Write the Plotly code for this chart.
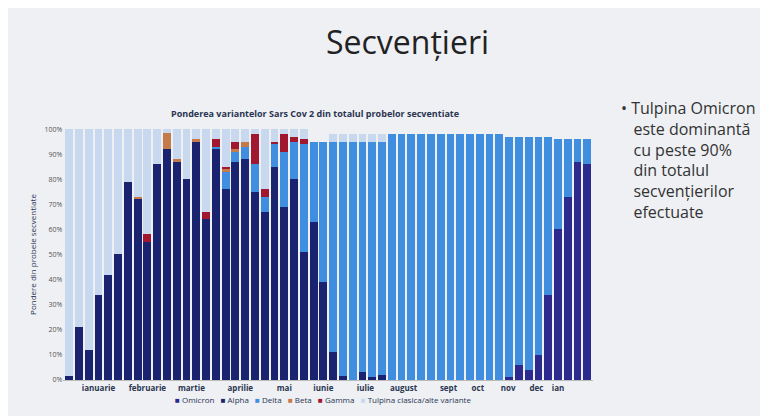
import plotly.graph_objects as go

# 54 sampled weeks, shares in %
alpha = [1.5, 21, 12, 34, 42, 50, 79, 72, 55, 86, 92, 87, 80, 95, 64, 92, 76, 87, 88, 75,
         67, 85, 69, 80, 51, 63, 39, 11, 1.5, 0, 3, 1, 2] + [0] * 21
omicron = [0] * 45 + [1, 6, 4, 10, 34, 60, 73, 87, 86]
beta = [0, 0, 0, 0, 0, 0, 0, 1, 0, 0, 6.5, 1, 0, 1, 0, 0, 1, 1, 2, 0,
        0, 0, 0, 0, 0] + [0] * 29
gamma = [0, 0, 0, 0, 0, 0, 0, 0, 3, 0, 0, 0, 0, 0, 3, 3, 1, 3, 0, 12,
         3, 1, 7, 2, 2] + [0] * 29
delta_early = [0] * 15 + [1, 7, 4, 5, 11, 6, 9, 22, 15, 43]
totals_late = [95, 95] + [95] * 6 + [98] * 12 + [97] * 5 + [96] * 4
clasica_late = [0, 0] + [3] * 6 + [0] * 21

delta = list(delta_early)
for k, tot in enumerate(totals_late):
    i = 25 + k
    delta.append(tot - alpha[i] - omicron[i])

clasica = []
for i in range(54):
    if i < 25:
        clasica.append(100 - alpha[i] - delta[i] - beta[i] - gamma[i])
    else:
        clasica.append(clasica_late[i - 25])

months = ["ianuarie", "februarie", "martie", "aprilie", "mai", "iunie", "iulie",
          "august", "sept", "oct", "nov", "dec", "ian"]
month_pos = [3, 8, 12.5, 17.5, 22, 26, 30.3, 34.2, 38.8, 41.8, 44.9, 47.8, 50]
y_ticks = list(range(0, 101, 10))

x = list(range(54))
series = [
    ("Omicron", omicron, "#2c2a8e"),
    ("Alpha", alpha, "#1a2370"),
    ("Delta", delta, "#3f8ee0"),
    ("Beta", beta, "#c57a4c"),
    ("Gamma", gamma, "#a1172f"),
    ("Tulpina clasica/alte variante", clasica, "#c8d8ef"),
]

fig = go.Figure()
for name, vals, color in series:
    fig.add_trace(go.Bar(x=x, y=vals, name=name, marker=dict(color=color, line=dict(width=0))))

fig.update_layout(
    barmode="stack",
    bargap=0.2,
    width=768,
    height=416,
    margin=dict(l=0, r=0, t=0, b=0, autoexpand=False),
    paper_bgcolor="#eef0f4",
    plot_bgcolor="rgba(0,0,0,0)",
    font=dict(family="Open Sans", color="#333"),
    xaxis=dict(domain=[0.072, 0.762], tickvals=month_pos, ticktext=[f"<b>{m}</b>" for m in months],
               automargin=False, tickfont=dict(size=8, color="#2a3550"), showgrid=False,
               range=[-0.6, 53.6], showline=True, linecolor="#bbb"),
    yaxis=dict(domain=[0.106, 0.709], range=[0, 100], tickvals=y_ticks,
               ticktext=[f"{v}%" for v in y_ticks], automargin=False,
               tickfont=dict(size=7, color="#555"), showgrid=False,
               title=dict(text="Pondere din probele secventiate", font=dict(size=8, color="#2a3550"), standoff=6)),
    showlegend=False,
)

legend_text = "   ".join(
    f"<span style='color:{color}'>■</span> {name}" for name, _, color in series
)
fig.add_annotation(text=legend_text, x=0.41, y=0.04, xref="paper", yref="paper",
                   showarrow=False, font=dict(size=8, color="#2a3550"))

fig.add_annotation(text="Secvențieri", x=0.52, y=0.975, xref="paper", yref="paper",
                   showarrow=False, font=dict(size=32, color="#222", family="Open Sans"))
fig.add_annotation(text="<b>Ponderea variantelor Sars Cov 2 din totalul probelor secventiate</b>",
                   x=0.40, y=0.726, xref="paper", yref="paper", showarrow=False, yanchor="bottom",
                   font=dict(size=9, color="#2a3550"))
fig.add_annotation(
    text="• Tulpina Omicron<br>   este dominantă<br>   cu peste 90%<br>   din totalul<br>   secvențierilor<br>   efectuate",
    x=0.795, y=0.79, xref="paper", yref="paper", showarrow=False, xanchor="left", yanchor="top",
    align="left", font=dict(size=16, color="#333", family="Open Sans"))

fig.write_html("out.html")
